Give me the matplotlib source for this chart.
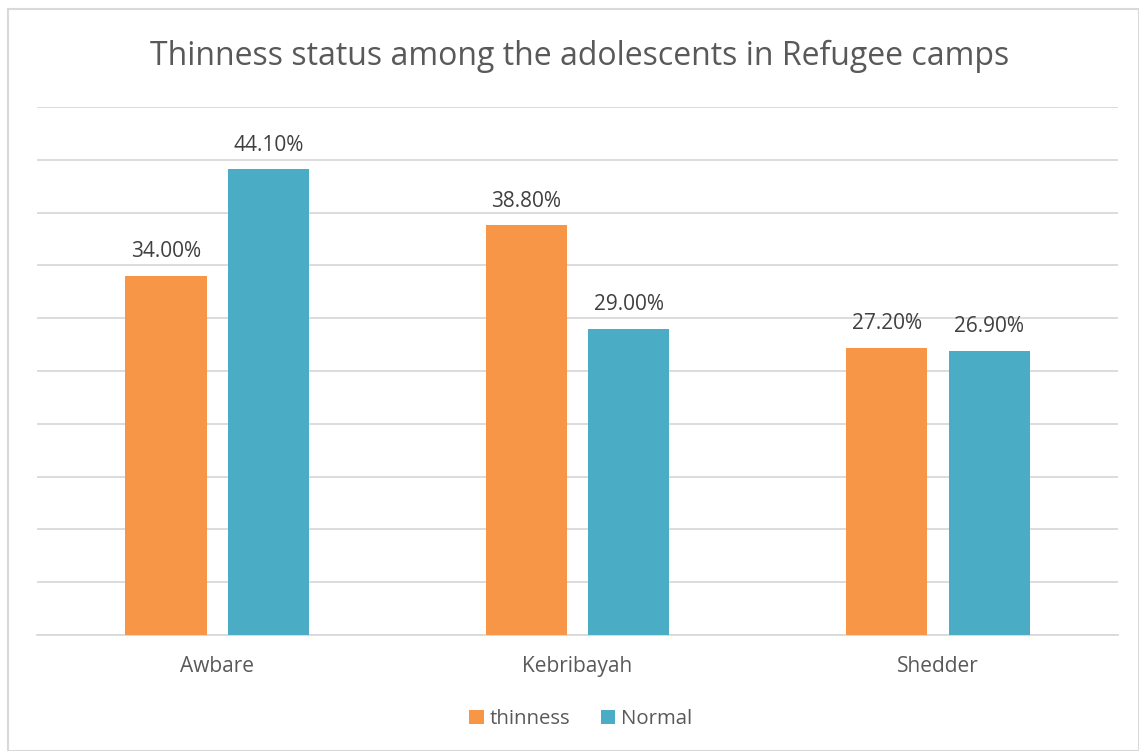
import matplotlib.pyplot as plt
import numpy as np
from matplotlib.patches import Rectangle

# dados do grafico
camps = ["Awbare", "Kebribayah", "Shedder"]
thinness = [34.0, 38.8, 27.2]
normal = [44.1, 29.0, 26.9]
series_names = ["thinness", "Normal"]
cores = ["#F79646", "#4BACC6"]

plt.rcParams['font.family'] = ['Open Sans', 'DejaVu Sans']

fig = plt.figure(figsize=(11.39, 7.51), dpi=100)
ax = fig.add_axes([0.0325, 0.1545, 0.9491, 0.703])

x = np.arange(len(camps))
w = 0.225
off = 0.142
b1 = ax.bar(x - off, thinness, w, color=cores[0], label=series_names[0], zorder=3)
b2 = ax.bar(x + off, normal, w, color=cores[1], label=series_names[1], zorder=3)

for bars in (b1, b2):
    for r in bars:
        h = r.get_height()
        ax.text(r.get_x() + r.get_width() / 2, h + 1.3, "%.2f%%" % h,
                ha="center", va="bottom", fontsize=15, color="#404040")

ax.set_xlim(-0.5, 2.5)
ax.set_ylim(0, 50)
ax.set_yticks(np.arange(0, 51, 5))
ax.yaxis.grid(True, color="#D9D9D9", linewidth=1.3, zorder=0)
ax.tick_params(axis="y", left=False, labelleft=False)
ax.set_xticks(x)
ax.set_xticklabels(camps, fontsize=15, color="#595959")
ax.tick_params(axis="x", length=0, pad=15)
for s in ["top", "right", "left"]:
    ax.spines[s].set_visible(False)
ax.spines["bottom"].set_color("#D9D9D9")
ax.spines["bottom"].set_linewidth(1.3)

fig.text(0.509, 0.925, "Thinness status among the adolescents in Refugee camps",
         ha="center", va="center", fontsize=23, color="#595959")

fig.legend(loc="center", bbox_to_anchor=(0.51, 0.042), ncol=2, frameon=False,
           fontsize=14.7, handlelength=0.7, handleheight=0.7, handletextpad=0.3,
           columnspacing=1.5, labelcolor="#595959")

fig.patches.append(Rectangle((0.007, 0.0), 0.993, 0.988, transform=fig.transFigure,
                             fill=False, edgecolor="#D9D9D9", linewidth=1.5))

fig.savefig("out.png", dpi=100)
